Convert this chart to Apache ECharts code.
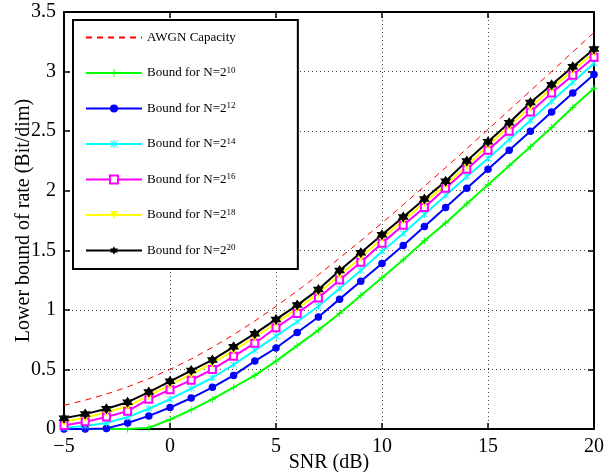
<!DOCTYPE html>
<html><head><meta charset="utf-8">
<script src="https://cdn.jsdelivr.net/npm/echarts@6/dist/echarts.min.js"></script>
<style>html,body{margin:0;padding:0;background:#fff}#c{width:606px;height:472px}</style>
</head><body><div id="c"></div>
<script>
const snr = [-5,-4,-3,-2,-1,0,1,2,3,4,5,6,7,8,9,10,11,12,13,14,15,16,17,18,19,20];
const awgn = [0.198,0.242,0.293,0.353,0.422,0.5,0.588,0.685,0.792,0.906,1.029,1.159,1.294,1.435,1.58,1.73,1.882,2.037,2.194,2.353,2.514,2.676,2.838,3.001,3.165,3.329];
const n10 = [0,0,0,0,0.01,0.08,0.16,0.25,0.35,0.45,0.57,0.70,0.83,0.97,1.12,1.27,1.42,1.58,1.73,1.89,2.05,2.21,2.37,2.53,2.70,2.86];
const n12 = [0,0,0.005,0.05,0.11,0.18,0.26,0.35,0.45,0.57,0.68,0.81,0.94,1.09,1.24,1.39,1.54,1.70,1.86,2.02,2.18,2.34,2.50,2.66,2.82,2.975];
const n14 = [0.01,0.025,0.05,0.10,0.17,0.25,0.34,0.43,0.54,0.66,0.78,0.90,1.03,1.18,1.33,1.49,1.64,1.80,1.96,2.12,2.27,2.43,2.59,2.75,2.91,3.07];
const n16 = [0.03,0.06,0.10,0.15,0.25,0.33,0.41,0.50,0.61,0.72,0.85,0.97,1.10,1.25,1.40,1.56,1.71,1.86,2.02,2.18,2.34,2.50,2.66,2.82,2.97,3.12];
const n18 = [0.06,0.095,0.14,0.19,0.28,0.37,0.46,0.55,0.66,0.77,0.89,1.01,1.14,1.29,1.44,1.60,1.75,1.90,2.05,2.21,2.38,2.54,2.70,2.86,3.01,3.16];
const n20 = [0.09,0.125,0.17,0.225,0.31,0.40,0.49,0.58,0.69,0.80,0.92,1.04,1.17,1.33,1.48,1.63,1.78,1.93,2.08,2.25,2.41,2.57,2.74,2.89,3.04,3.19];
const names = ['AWGN Capacity','Bound for N=2^10','Bound for N=2^12','Bound for N=2^14','Bound for N=2^16','Bound for N=2^18','Bound for N=2^20'];
const xTicks = {min:-5, max:20, step:5};
const yTicks = {min:0, max:3.5, step:0.5};

const FONT = '"Liberation Serif", "Times New Roman", serif';
const pair = arr => snr.map((x,i)=>[x,arr[i]]);
const plusPath = 'path://M4.4,0H5.6V4.4H10V5.6H5.6V10H4.4V5.6H0V4.4H4.4Z';
const asteriskPath = 'path://M4.4,0H5.6V10H4.4Z M0.6,1.4L1.4,0.6L9.4,8.6L8.6,9.4Z M8.6,0.6L9.4,1.4L1.4,9.4L0.6,8.6Z';
const hexPath = 'path://M5,0L9.33,7.5L0.67,7.5Z M5,10L0.67,2.5L9.33,2.5Z';

const mk = (name, arr, color, symbol, size, extra) => Object.assign({
  name, type:'line', data: pair(arr), color,
  lineStyle:{color, width:2}, symbol, symbolSize:size,
  itemStyle:{color}, animation:false, z:3
}, extra||{});

const series = [
  {name:names[0], type:'line', data:pair(awgn), color:'#ff0000', symbol:'none',
   lineStyle:{color:'#ff0000', width:1, type:[6,5]}, animation:false, z:2},
  mk(names[1], n10, '#00ff00', plusPath, 7),
  mk(names[2], n12, '#0000ff', 'circle', 7.5),
  mk(names[3], n14, '#00ffff', asteriskPath, 7),
  mk(names[4], n16, '#ff00ff', 'emptyRect', 7, {itemStyle:{color:'#ff00ff', borderColor:'#ff00ff', borderWidth:1.5}}),
  mk(names[5], n18, '#ffff00', 'triangle', 9, {symbolRotate:180}),
  mk(names[6], n20, '#000000', hexPath, 11)
];

const axisCommon = {
  type:'value',
  axisLine:{show:true, onZero:false, lineStyle:{color:'#000', width:2}},
  axisTick:{show:true, inside:true, length:6, lineStyle:{color:'#000', width:1.5}},
  axisLabel:{show:false},
  splitLine:{show:false}
};

const legendData = names.map((n,i)=> i===0 ? {name:n, itemStyle:{opacity:0}} : {name:n});

const chart = echarts.init(document.getElementById('c'), null, {renderer:'canvas'});
chart.setOption({
  backgroundColor:'#fff',
  animation:false,
  grid:{left:64, right:12, top:12, bottom:43, containLabel:false, outerBoundsMode:'none'},
  legend:{
    orient:'vertical', left:73, top:20,
    data:legendData,
    itemWidth:56, itemHeight:10, itemGap:22,
    padding:[11,62,12,12],
    backgroundColor:'#fff', borderColor:'#000', borderWidth:2,
    textStyle:{fontFamily:FONT, fontSize:13, color:'#000',
      rich:{b:{fontFamily:FONT, fontSize:13, lineHeight:14, color:'#000'},
            s:{fontFamily:FONT, fontSize:9, lineHeight:8, verticalAlign:'top', color:'#000'}}},
    formatter: n => {
      const p = n.split('^');
      return p.length>1 ? '{b|'+p[0]+'}{s|'+p[1]+'}' : '{b|'+n+'}';
    }
  },
  xAxis:[
    Object.assign({}, axisCommon, {
      position:'bottom', min:xTicks.min, max:xTicks.max, interval:xTicks.step,
      axisLabel:{show:true, fontFamily:FONT, fontSize:20, color:'#000', margin:8,
        formatter:v=>String(v).replace('-','\u2212')},
      splitLine:{show:true, lineStyle:{color:'#444', width:1, type:[1,3]}},
      name:'SNR (dB)', nameLocation:'middle', nameGap:24, nameMoveOverlap:false,
      nameTextStyle:{fontFamily:FONT, fontSize:20, color:'#000'}
    }),
    Object.assign({}, axisCommon, {position:'top', min:xTicks.min, max:xTicks.max, interval:xTicks.step})
  ],
  yAxis:[
    Object.assign({}, axisCommon, {
      position:'left', min:yTicks.min, max:yTicks.max, interval:yTicks.step,
      axisLabel:{show:true, fontFamily:FONT, fontSize:20, color:'#000', margin:8},
      splitLine:{show:true, lineStyle:{color:'#444', width:1, type:[1,3]}},
      name:'Lower bound of rate (Bit/dim)', nameLocation:'middle', nameGap:30, nameMoveOverlap:false,
      nameTextStyle:{fontFamily:FONT, fontSize:20, color:'#000'}
    }),
    Object.assign({}, axisCommon, {position:'right', min:yTicks.min, max:yTicks.max, interval:yTicks.step})
  ],
  series
});
</script></body></html>
